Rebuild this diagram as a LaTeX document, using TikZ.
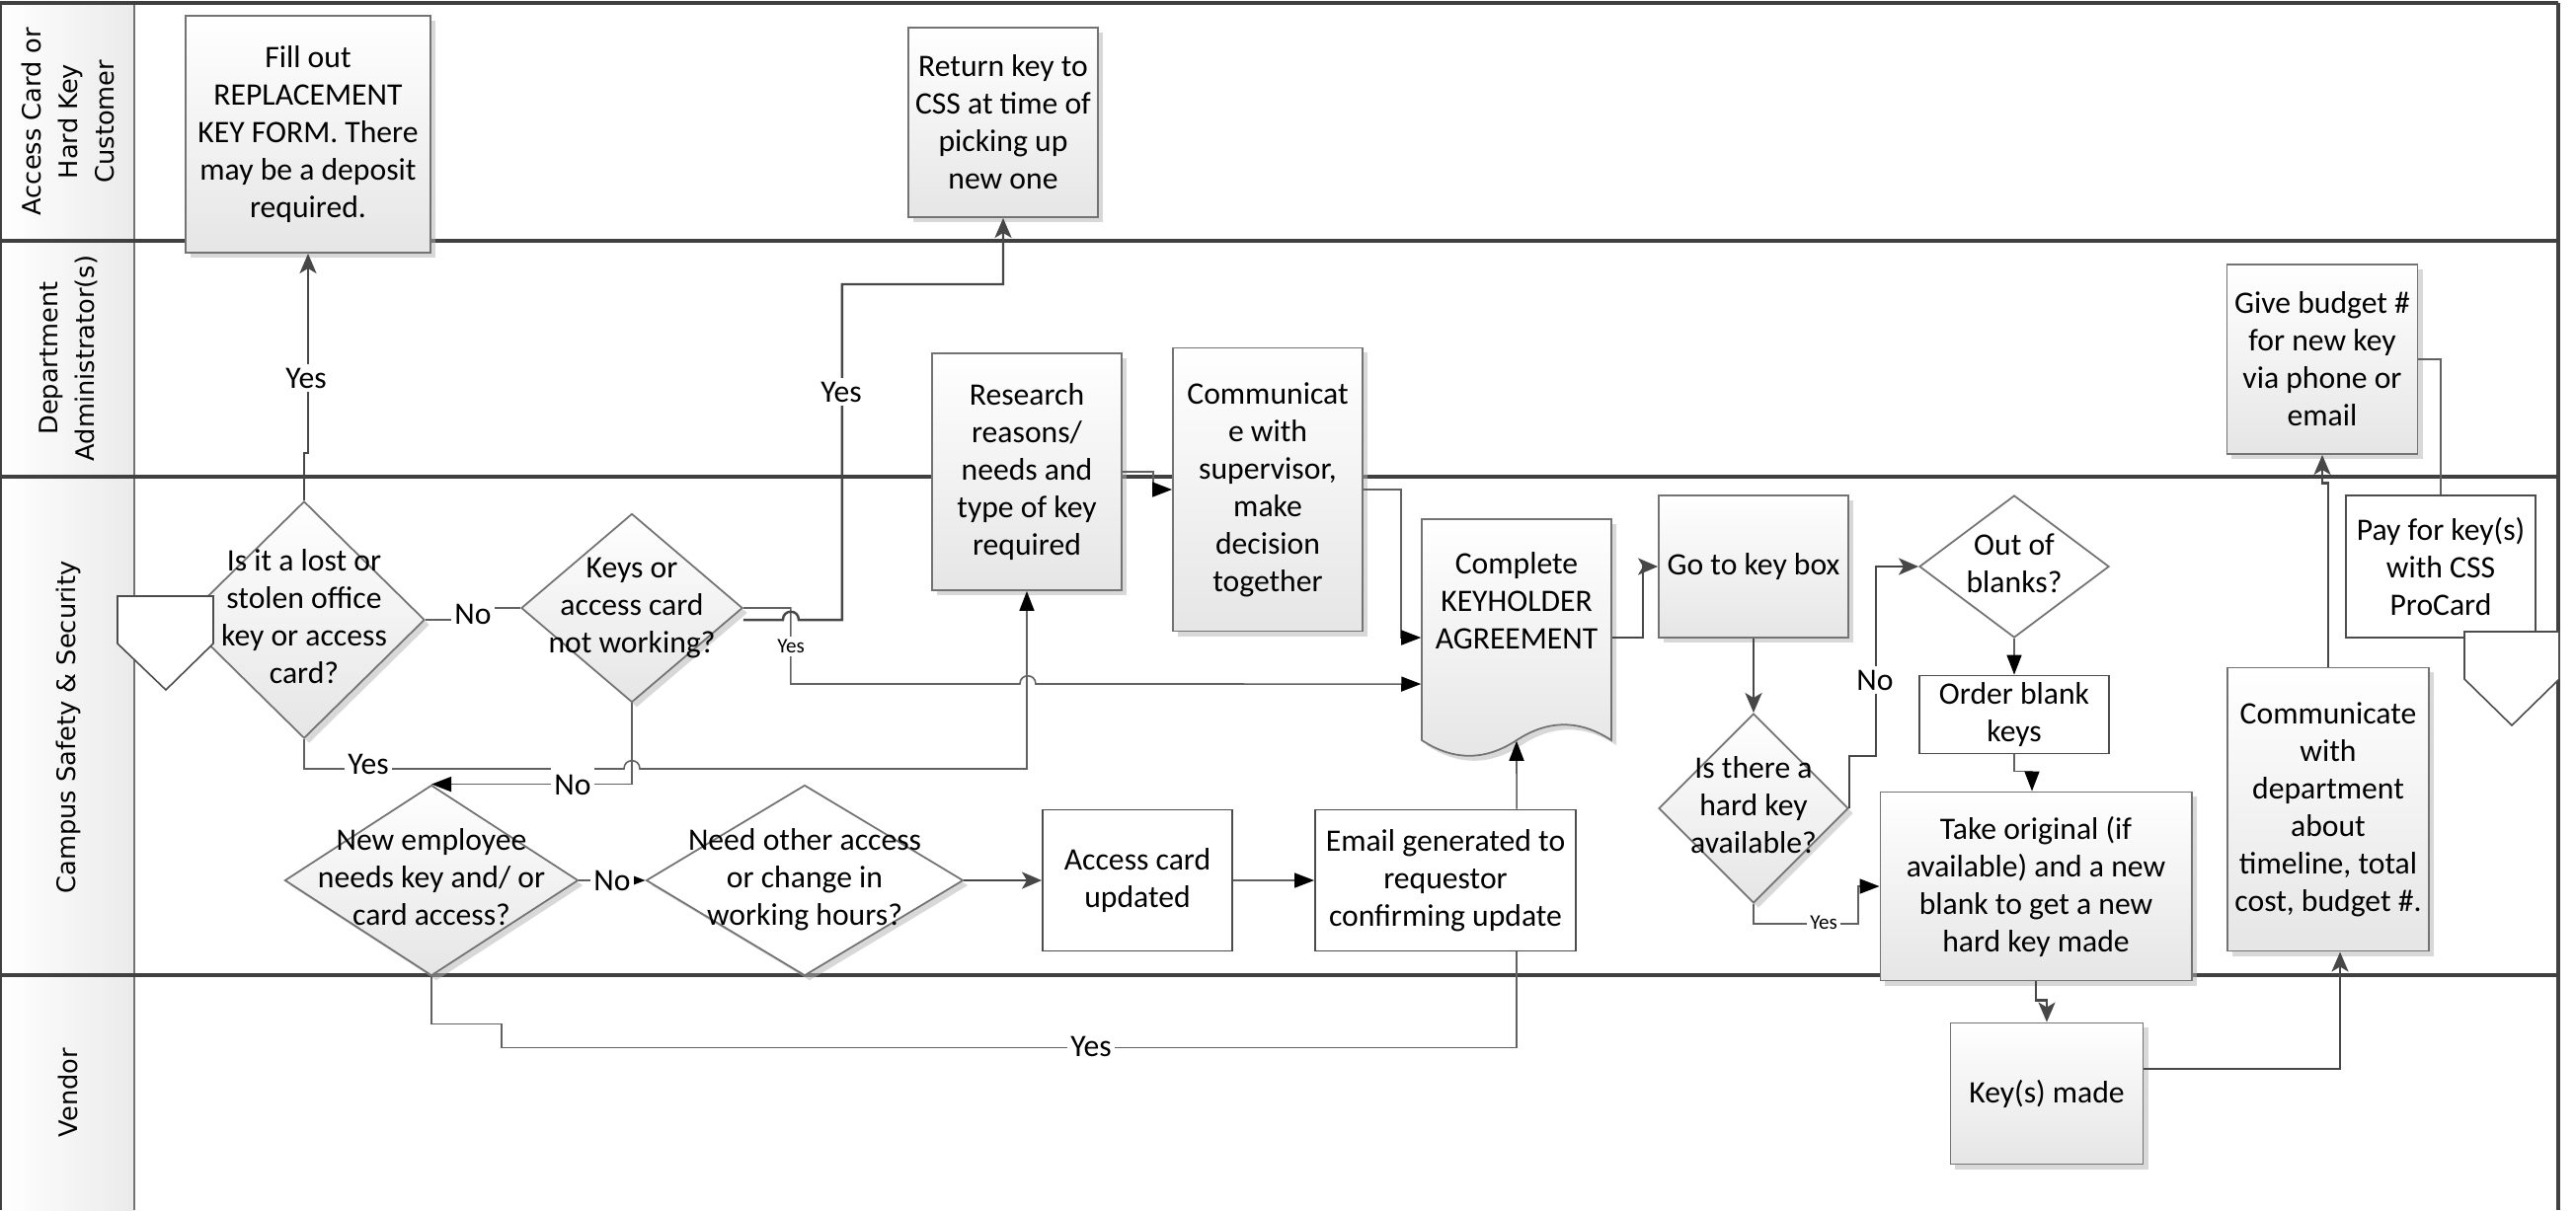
\documentclass[tikz,border=0pt]{standalone}
\usepackage{fontspec}
\setmainfont{Carlito}
\newfontfamily\lanefont{DejaVu Sans}
\usetikzlibrary{arrows.meta, shapes.geometric, shadows}

% text of a diamond, kept out of the shape size
\newcommand{\dtext}[2][0pt]{\makebox[0pt]{\smash{\raisebox{\dimexpr#1-0.25em\relax}{\begin{tabular}{@{}c@{}}#2\end{tabular}}}}}

\begin{document}
\begin{tikzpicture}[
    x=0.01cm, y=-0.01cm,
    font=\fontsize{9}{10.8}\selectfont,
    every node/.style={align=center, inner sep=2pt},
    lane/.style={draw=black!75, line width=0.9pt},
    lanehead/.style={rotate=90, font=\lanefont\fontsize{7.3}{10.5}\selectfont},
    grad/.style={top color=white, bottom color=black!10},
    shadowed/.style={drop shadow={shadow xshift=0.05cm, shadow yshift=-0.05cm, fill=black!30}},
    box/.style={rectangle, draw=black!55, line width=0.5pt, minimum width=1.92cm},
    task/.style={box, grad, shadowed},
    note/.style={box, draw=black!70, fill=white},
    decision/.style={diamond, draw=black!55, line width=0.5pt, inner sep=0pt},
    lbl/.style={fill=white, inner sep=1pt},
    small/.style={lbl, font=\fontsize{6}{7}\selectfont},
    flowline/.style={draw=black!72, line width=0.7pt, -{Stealth[length=0.2cm, width=0.17cm, inset=0.05cm]}},
    conn/.style={draw=black!62, line width=0.45pt, -{Triangle[length=0.2cm, width=0.15cm, black]}},
    offpage/.style={draw=black!70, line width=0.45pt, fill=white}
]
\useasboundingbox (0,0) rectangle (2609,1226);

% Lanes
\path[left color=white, right color=black!8] (0,3) rectangle (136,1226);
\draw[black!55, line width=0.6pt] (136,3) -- (136,1226);
\foreach \y in {3,244,483,988}
    \draw[lane] (0,\y) -- (2591,\y);
\draw[lane] (0,3) -- (0,1226) (2591,3) -- (2591,1226);

\node[lanehead] (h-cust) at (69,123) {Access Card or\\Hard Key\\Customer};
\node[lanehead] (h-dept) at (69,363) {Department\\Administrator(s)};
\node[lanehead] (h-css) at (69,737) {Campus Safety \& Security};
\node[lanehead] (h-vendor) at (69,1107) {Vendor};

% Access Card or Hard Key Customer
\node[task, minimum width=2.48cm, minimum height=2.40cm] (form) at (312,136) {Fill out\\REPLACEMENT\\KEY FORM. There\\may be a deposit\\required.};
\node[task, minimum height=1.92cm] (return) at (1016,124) {Return key to\\CSS at time of\\picking up\\new one};

% Department Administrator(s)
\node[task, minimum height=2.40cm] (research) at (1040,478) {Research\\reasons/\\needs and\\type of key\\required};
\node[task, minimum height=2.87cm] (talk) at (1284,496) {Communicat\\e with\\supervisor,\\make\\decision\\together};
\node[task, minimum width=1.93cm, minimum height=1.92cm] (budget) at (2352,364) {Give budget \#\\for new key\\via phone or\\email};

% Campus Safety & Security
\node[decision, grad, shadowed, minimum width=2.44cm, minimum height=2.40cm] (lost) at (308,628) {\dtext{Is it a lost or\\stolen office\\key or access\\card?}};
\node[decision, grad, shadowed, minimum width=2.24cm, minimum height=1.91cm] (keys) at (640,616) {\dtext{Keys or\\access card\\not working?}};
\node[decision, grad, shadowed, minimum width=2.97cm, minimum height=1.93cm] (newhire) at (437,892) {\dtext{New employee\\needs key and/ or\\card access?}};
\node[decision, fill=white, shadowed, minimum width=3.21cm, minimum height=1.93cm] (other) at (815,892) {\dtext{Need other access\\or change in\\working hours?}};
\node[note, minimum height=1.43cm] (card) at (1152,892) {Access card\\updated};
\node[note, minimum width=2.64cm, minimum height=1.43cm] (email) at (1464,892) {Email generated to\\requestor\\confirming update};

\path[draw=black!55, line width=0.5pt, grad, shadowed] (1440,526) -- (1632,526) -- (1632,750)
    .. controls (1600,729) and (1568,729) .. (1536,750)
    .. controls (1504,771) and (1472,771) .. (1440,750) -- cycle;
\node[inner sep=0pt, minimum width=1.92cm, minimum height=2.24cm] (agree) at (1536,638) {\dtext[0.26cm]{Complete\\KEYHOLDER\\AGREEMENT}};

\node[task, minimum height=1.44cm] (keybox) at (1776,574) {Go to key box};
\node[decision, grad, shadowed, minimum width=1.92cm, minimum height=1.92cm] (hardkey) at (1776,819) {\dtext{Is there a\\hard key\\available?}};
\node[decision, fill=white, minimum width=1.92cm, minimum height=1.44cm] (blanks) at (2040,574) {\dtext{Out of\\blanks?}};
\node[note, minimum height=0.72cm] (order) at (2040,724) {Order blank\\keys};
\node[task, minimum width=3.15cm, minimum height=1.91cm] (cut) at (2062,898) {Take original (if\\available) and a new\\blank to get a new\\hard key made};
\node[task, minimum width=2.04cm, minimum height=2.87cm] (dept) at (2358,820) {Communicate\\with\\department\\about\\timeline, total\\cost, budget \#.};
\node[note, minimum height=1.44cm] (pay) at (2472,574) {Pay for key(s)\\with CSS\\ProCard};

% Vendor
\node[task, minimum width=1.95cm, minimum height=1.43cm] (made) at (2073,1108) {Key(s) made};

% Connectors, first decisions
\draw[flowline] (lost.north) -- ++(0,-48) -| (form.south);
\node[lbl] (yes1) at (310,383) {Yes};
\draw[conn, -] (lost.east) -- ++(49,0) |- (keys.west);
\node[lbl] (no1) at (479,622) {No};
\draw[conn] (keys.east) -- ++(48,0) -- ++(0,77) -- ++(232,0)
    .. controls +(0,-11) and +(0,-11) .. ++(16,0) -- ([yshift=-0.55cm]agree.west);
\node[small] (yes2) at (801,655) {Yes};
\draw[flowline] ([yshift=-0.12cm]keys.east) -- ++(40,0)
    .. controls +(0,-11) and +(0,-11) .. ++(16,0) -- ++(44,0) |- ([yshift=-0.67cm]return.south) -- (return.south);
\node[lbl] (yes3) at (852,397) {Yes};
\draw[conn] (lost.south) -- ++(0,30) -- ++(324,0)
    .. controls +(0,-11) and +(0,-11) .. ++(16,0) -| (research.south);
\node[lbl] (yes4) at (373,774) {Yes};
\draw[conn] (keys.south) |- (newhire.north);
\node[lbl, inner ysep=2.6pt] (no2) at (580,795) {No};

% New employee / other access
\draw[conn] (newhire.east) -- (other.west);
\node[lbl] (no3) at (620,892) {No};
\draw[flowline] (other.east) -- (card.west);
\draw[conn] (card.east) -- (email.west);
\draw[conn] ([xshift=0.72cm]email.north) -- (agree.south);
\draw[conn, -] (newhire.south) -- ++(0,48) -- ++(71,0) -- ++(0,24) -| ([xshift=0.72cm]email.south);
\node[lbl] (yes5) at (1105,1060) {Yes};

% Department approval
\draw[conn] (research.east) -- ++(31,0) |- (talk.west);
\draw[conn] (talk.east) -- ++(38,0) |- ([yshift=-0.08cm]agree.west);

% Key cutting
\draw[flowline] ([yshift=-0.08cm]agree.east) -- ++(31,0) |- (keybox.west);
\draw[flowline] (keybox.south) -- (hardkey.north);
\draw[flowline] (hardkey.east) -- ++(0,-53) -- ++(27,0) |- (blanks.west);
\node[lbl] (no4) at (1899,689) {No};
\draw[conn] (hardkey.south) |- ++(106,20) |- (cut.west);
\node[small] (yes6) at (1847,935) {Yes};
\draw[conn] (blanks.south) -- (order.north);
\draw[conn] (order.south) -- ++(0,17) -| ([xshift=-0.04cm]cut.north);
\draw[flowline] (cut.south) -- ++(0,19) -| (made.north);
\draw[flowline] ([yshift=0.25cm]made.east) -| ([xshift=0.12cm]dept.south);
\draw[flowline] (dept.north) -- ++(0,-186) -| (budget.south);
\draw[conn, -] (budget.east) -| (pay.north);

% Off-page references
\draw[offpage] (119,604) -- (216,604) -- (216,652) -- (168,699) -- (119,652) -- cycle;
\draw[offpage] (2496,640) -- (2592,640) -- (2592,688) -- (2544,735) -- (2496,688) -- cycle;
\end{tikzpicture}
\end{document}
